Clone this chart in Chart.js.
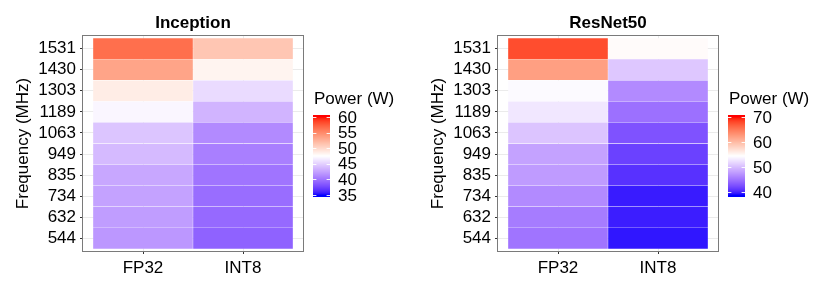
<!DOCTYPE html>
<html>
<head>
<meta charset="utf-8">
<script src="https://cdn.jsdelivr.net/npm/chart.js@4.4.1/dist/chart.umd.min.js"></script>
<style>
  html, body { margin: 0; padding: 0; background: #ffffff; }
  #wrap { display: flex; width: 830px; height: 291px; }
  canvas { display: block; }
</style>
</head>
<body>
<div id="wrap">
  <canvas id="c1" width="415" height="291"></canvas>
  <canvas id="c2" width="415" height="291"></canvas>
</div>
<script>
// ---- data ----
const frequencies = [544, 632, 734, 835, 949, 1063, 1189, 1303, 1430, 1531];
const precisions = ['FP32', 'INT8'];

const inceptionFP32 = [41.9, 42.2, 42.5, 42.8, 43.8, 44.4, 47.0, 48.7, 53.4, 56.5];
const inceptionINT8 = [39.0, 39.4, 39.6, 40.0, 40.6, 41.2, 43.5, 45.6, 48.2, 51.2];
const resnetFP32    = [45.2, 45.7, 46.7, 47.8, 48.3, 50.6, 52.9, 54.2, 62.2, 67.7];
const resnetINT8    = [39.6, 39.9, 39.8, 40.9, 41.8, 42.9, 44.9, 46.7, 50.8, 54.8];

const inceptionLimits = [35, 60];
const resnetLimits = [39, 70];
const inceptionLegendTicks = [35, 40, 45, 50, 55, 60];
const resnetLegendTicks = [40, 50, 60, 70];

// ---- colour scale: blue - white - red, interpolated in CIELAB ----
const XN = 0.95047, YN = 1.0, ZN = 1.08883;
function toLin(c) { c /= 255; return c <= 0.04045 ? c / 12.92 : Math.pow((c + 0.055) / 1.055, 2.4); }
function fromLin(c) { c = Math.max(0, Math.min(1, c)); return 255 * (c <= 0.0031308 ? 12.92 * c : 1.055 * Math.pow(c, 1 / 2.4) - 0.055); }
function rgbToLab(rgb) {
  const R = toLin(rgb[0]), G = toLin(rgb[1]), B = toLin(rgb[2]);
  const X = (0.4124564 * R + 0.3575761 * G + 0.1804375 * B) / XN;
  const Y = (0.2126729 * R + 0.7151522 * G + 0.0721750 * B) / YN;
  const Z = (0.0193339 * R + 0.1191920 * G + 0.9503041 * B) / ZN;
  const f = t => t > 0.008856 ? Math.cbrt(t) : 7.787 * t + 16 / 116;
  const fx = f(X), fy = f(Y), fz = f(Z);
  return [116 * fy - 16, 500 * (fx - fy), 200 * (fy - fz)];
}
function labToRgb(lab) {
  const fy = (lab[0] + 16) / 116, fx = fy + lab[1] / 500, fz = fy - lab[2] / 200;
  const inv = t => t > 0.206893 ? t * t * t : (t - 16 / 116) / 7.787;
  const X = inv(fx) * XN, Y = inv(fy) * YN, Z = inv(fz) * ZN;
  const R = 3.2404542 * X - 1.5371385 * Y - 0.4985314 * Z;
  const G = -0.9692660 * X + 1.8760108 * Y + 0.0415560 * Z;
  const B = 0.0556434 * X - 0.2040259 * Y + 1.0572252 * Z;
  return [fromLin(R), fromLin(G), fromLin(B)].map(v => Math.round(v));
}
const LAB_LOW = rgbToLab([0, 0, 255]);
const LAB_MID = rgbToLab([255, 255, 255]);
const LAB_HIGH = rgbToLab([255, 0, 0]);
function mix(a, b, u) { return [a[0] + (b[0] - a[0]) * u, a[1] + (b[1] - a[1]) * u, a[2] + (b[2] - a[2]) * u]; }
function powerColor(v, limits) {
  const mid = (limits[0] + limits[1]) / 2;
  const d = Math.max(limits[1] - mid, mid - limits[0]);
  let s = (v - mid) / d / 2 + 0.5;
  s = Math.max(0, Math.min(1, s));
  const lab = s < 0.5 ? mix(LAB_LOW, LAB_MID, s / 0.5) : mix(LAB_MID, LAB_HIGH, (s - 0.5) / 0.5);
  const c = labToRgb(lab);
  return 'rgb(' + c[0] + ',' + c[1] + ',' + c[2] + ')';
}

const FONT = '"Liberation Sans", Arial, Helvetica, sans-serif';

// ---- decorations: panel border, title, colour bar legend ----
const decorPlugin = {
  id: 'decor',
  afterDraw(chart, args, opts) {
    const ctx = chart.ctx;
    const a = chart.chartArea;
    ctx.save();
    // panel border
    ctx.strokeStyle = '#7a7a7a';
    ctx.lineWidth = 1;
    ctx.strokeRect(Math.round(a.left) - 0.5, Math.round(a.top) - 0.5,
                   Math.round(a.right - a.left) + 1, Math.round(a.bottom - a.top) + 1);
    // title
    ctx.fillStyle = '#000';
    ctx.font = 'bold 17px ' + FONT;
    ctx.textAlign = 'center';
    ctx.textBaseline = 'alphabetic';
    ctx.fillText(opts.title, (a.left + a.right) / 2, 28);
    // legend title
    ctx.font = '17px ' + FONT;
    ctx.textAlign = 'left';
    ctx.fillText('Power (W)', 314, 104);
    // colour bar
    const bx = 313, bw = 17, btop = 115, bbot = 197, inset = 2;
    const lo = opts.limits[0], hi = opts.limits[1];
    const yOf = v => (btop + inset) + (hi - v) / (hi - lo) * ((bbot - inset) - (btop + inset));
    const vOf = y => hi - (y - (btop + inset)) / ((bbot - inset) - (btop + inset)) * (hi - lo);
    for (let y = btop; y < bbot; y += 1) {
      let v = vOf(y + 0.5);
      v = Math.max(lo, Math.min(hi, v));
      ctx.fillStyle = powerColor(v, opts.limits);
      ctx.fillRect(bx, y, bw, 1);
    }
    // legend ticks (white) and labels
    ctx.strokeStyle = 'rgba(255,255,255,0.9)';
    ctx.lineWidth = 1;
    ctx.fillStyle = '#000';
    ctx.textBaseline = 'middle';
    opts.ticks.forEach(t => {
      const y = Math.round(yOf(t)) + 0.5;
      ctx.beginPath();
      ctx.moveTo(bx, y); ctx.lineTo(bx + 3.4, y);
      ctx.moveTo(bx + bw - 3.4, y); ctx.lineTo(bx + bw, y);
      ctx.stroke();
      ctx.fillText(String(t), 338, yOf(t) + 1);
    });
    ctx.restore();
  }
};

function makeHeatmap(canvasId, title, fp32, int8, limits, legendTicks) {
  const datasets = frequencies.map((f, i) => ({
    label: String(f),
    data: precisions.map((p, j) => ({ x: j + 1, y: 1 })),
    backgroundColor: [powerColor(fp32[i], limits), powerColor(int8[i], limits)],
    borderColor: 'rgba(255,255,255,0.2)',
    borderWidth: 0.5,
    borderSkipped: false,
    barPercentage: 1,
    categoryPercentage: 1,
    stack: 's'
  }));
  return new Chart(document.getElementById(canvasId), {
    type: 'bar',
    data: { datasets },
    options: {
      responsive: false,
      animation: false,
      devicePixelRatio: 1,
      layout: { padding: { left: 0, right: 112, top: 36, bottom: 0 } },
      plugins: {
        legend: { display: false },
        tooltip: { enabled: false },
        decor: { title: title, limits: limits, ticks: legendTicks }
      },
      scales: {
        x: {
          type: 'linear',
          stacked: true,
          offset: false,
          min: 0.4,
          max: 2.6,
          afterBuildTicks: s => { s.ticks = precisions.map((p, j) => ({ value: j + 1 })); },
          afterFit: s => { s.height = 40; },
          ticks: {
            callback: (v, i) => precisions[i],
            font: { family: FONT, size: 17 },
            color: '#000',
            padding: 4,
            maxRotation: 0,
            autoSkip: false
          },
          grid: { color: '#ebebeb', tickColor: '#333333', tickLength: 3, offset: false, lineWidth: 1 },
          border: { display: false }
        },
        y: {
          type: 'linear',
          stacked: true,
          min: -0.1,
          max: 10.1,
          afterBuildTicks: s => { s.ticks = frequencies.map((f, i) => ({ value: i + 0.5 })); },
          afterFit: s => { s.width = 83; },
          ticks: {
            callback: (v, i) => String(frequencies[i]),
            font: { family: FONT, size: 17 },
            color: '#000',
            padding: 4,
            autoSkip: false
          },
          grid: { color: '#ebebeb', tickColor: '#333333', tickLength: 3, lineWidth: 1 },
          border: { display: false },
          title: {
            display: true,
            text: 'Frequency (MHz)',
            font: { family: FONT, size: 17 },
            color: '#000',
            padding: { top: 13, bottom: 0 }
          }
        }
      }
    },
    plugins: [decorPlugin]
  });
}

makeHeatmap('c1', 'Inception', inceptionFP32, inceptionINT8, inceptionLimits, inceptionLegendTicks);
makeHeatmap('c2', 'ResNet50', resnetFP32, resnetINT8, resnetLimits, resnetLegendTicks);
</script>
</body>
</html>
